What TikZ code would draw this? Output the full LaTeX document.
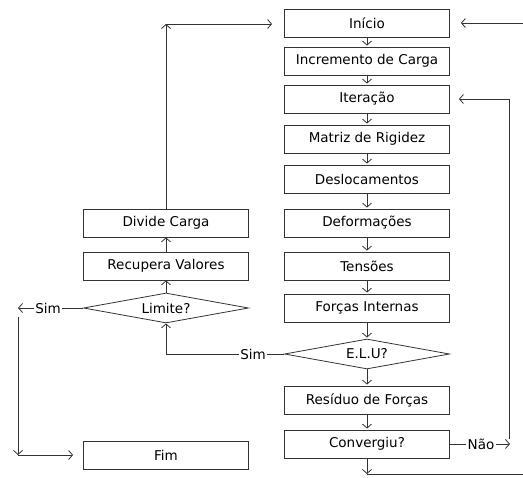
\documentclass[tikz,border=0pt]{standalone}
\usepackage{fontspec}
\setmainfont{DejaVu Sans}
\usetikzlibrary{arrows.meta,shapes.geometric}

\begin{document}
\begin{tikzpicture}[x=1pt, y=-1pt, line width=0.8pt, draw=black!80,
    font=\fontsize{13.5}{16}\selectfont,
    caixa/.style={draw, minimum width=165pt, minimum height=28pt, inner sep=0pt},
    decisao/.style={draw, diamond, aspect=5.5, minimum width=165pt, minimum height=30pt, inner sep=0pt},
    seta/.style={-{Straight Barb[length=4pt,width=9pt]}},
    rotulo/.style={inner sep=1pt}]

        \useasboundingbox (0,0) rectangle (523,478);

        % Coluna principal
        \node[caixa] (ini) at (367,23) {Início};
        \node[caixa] (inc) at (367,61) {Incremento de Carga};
        \node[caixa] (ite) at (367,99) {Iteração};
        \node[caixa] (mat) at (367,139) {Matriz de Rigidez};
        \node[caixa] (des) at (367,179) {Deslocamentos};
        \node[caixa] (def) at (367,223) {Deformações};
        \node[caixa] (ten) at (367,266) {Tensões};
        \node[caixa] (for) at (367,308) {Forças Internas};
        \node[decisao] (elu) at (367,354) {E.L.U?};
        \node[caixa] (res) at (367,400) {Resíduo de Forças};
        \node[caixa] (con) at (367,444) {Convergiu?};

        % Coluna da esquerda
        \node[caixa] (div) at (166,223) {Divide Carga};
        \node[caixa] (rec) at (166,266) {Recupera Valores};
        \node[decisao] (lim) at (166,308) {Limite?};
        \node[caixa] (fim) at (166,455) {Fim};

        % Rotulos
        \node[rotulo] (simE) at (253,354) {Sim};
        \node[rotulo] (simL) at (48,308) {Sim};
        \node[rotulo] (nao) at (481,444) {Não};

        % Cantos
        \coordinate (cantoDiv) at (166,24);
        \coordinate (cantoSimL) at (18,308);
        \coordinate (topoEsq) at (18,317);
        \coordinate (baseEsq) at (18,455);
        \coordinate (cantoNao) at (510,444);
        \coordinate (topoNao) at (509,439);
        \coordinate (baseCon) at (367,474);
        \coordinate (cantoDir) at (524,474);

        % Linhas da coluna principal
        \foreach \a/\b in {ini/inc, inc/ite, ite/mat, mat/des, des/def, def/ten, ten/for, for/elu, elu/res, res/con}
            \draw[seta, shorten >=1pt] (\a) -- (\b);

        % E.L.U -> Limite
        \draw (elu.west) -- (simE.east);
        \draw[seta] (simE.west) -| (lim.south);

        % Coluna da esquerda
        \draw[seta] (lim) -- (rec);
        \draw[seta] (rec) -- (div);
        \draw[seta] (div.north) -- (cantoDiv);
        \draw[seta, shorten >=12pt] (cantoDiv) -- (ini.west |- cantoDiv);
        \draw (lim.west) -- (simL.east);
        \draw[seta] (simL.west) -- (cantoSimL);
        \draw[seta] (topoEsq) -- (baseEsq);
        \draw[seta, shorten >=10pt] (baseEsq) -- (fim.west);

        % Convergiu
        \draw (con.east) -- (nao.west);
        \draw[seta] (nao.east) -- (cantoNao);
        \draw[seta, shorten >=9pt] (topoNao) |- (ite.east);
        \draw[seta] (con.south) -- (baseCon);
        \draw[seta, shorten >=11pt] (baseCon) -- (cantoDir) |- (ini.east);

\end{tikzpicture}
\end{document}
